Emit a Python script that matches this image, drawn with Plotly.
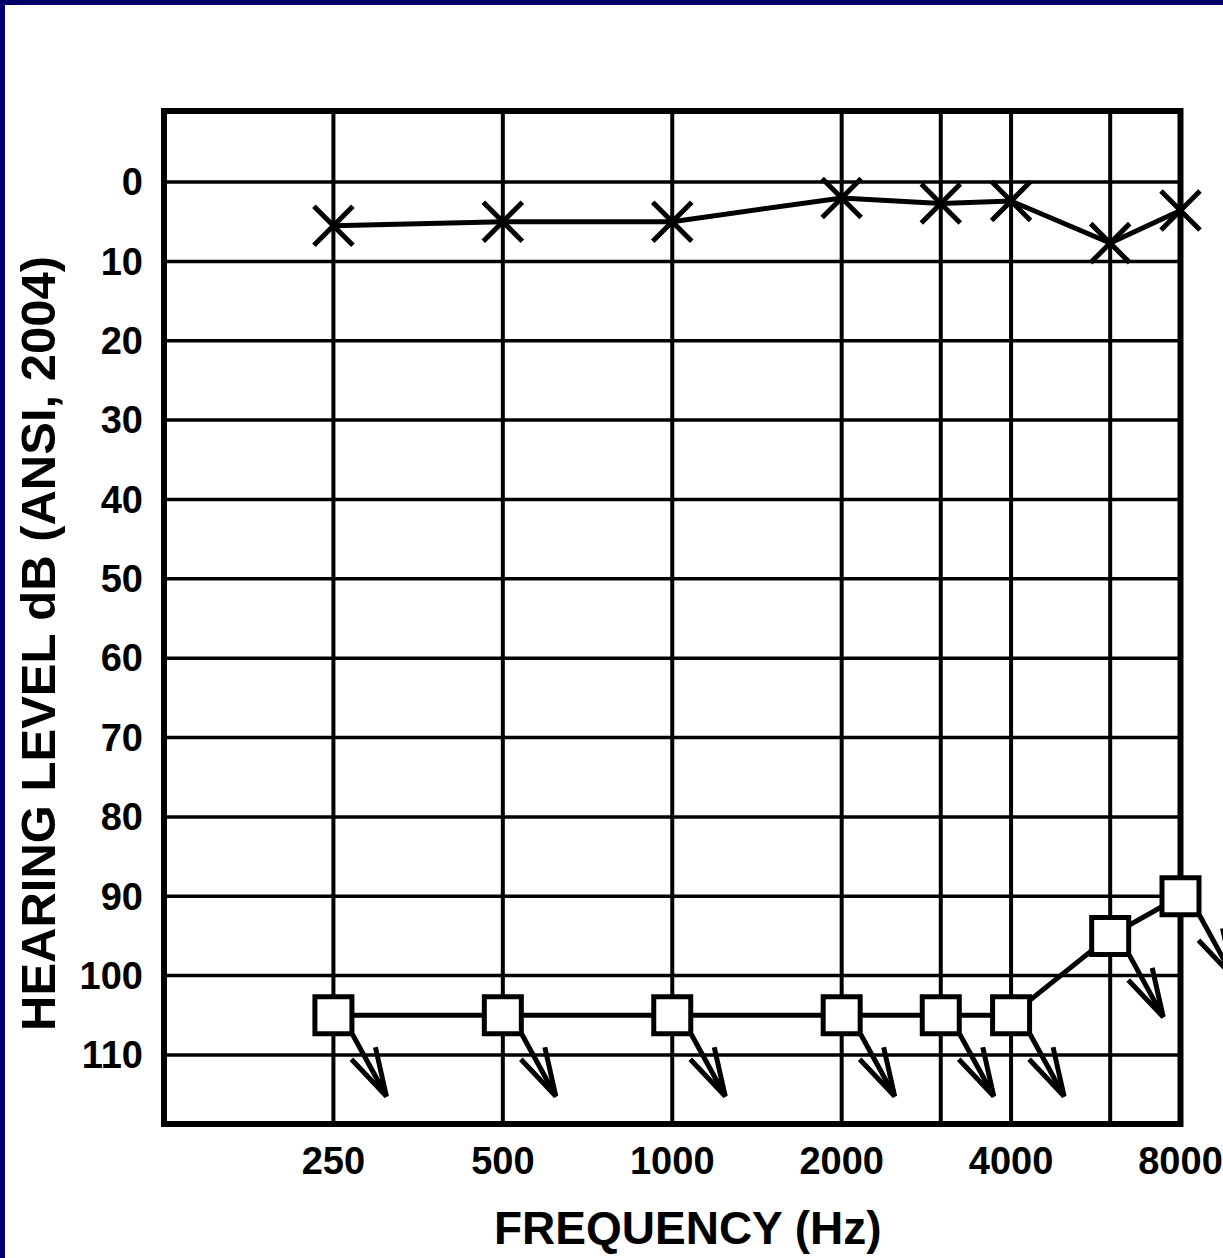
import numpy as np
import plotly.graph_objects as go

# ---------------- data ----------------
freq_x = [250, 500, 1000, 2000, 3000, 4000, 6000, 8000]
level_x = [5.5, 5, 5, 2, 2.7, 2.4, 7.7, 3.6]

freq_sq = [250, 500, 1000, 2000, 3000, 4000, 6000, 8000]
level_sq = [105, 105, 105, 105, 105, 105, 95, 90]

x_tickvals = [250, 500, 1000, 2000, 4000, 8000]
x_ticktext = ["250", "500", "1000", "2000", "4000", "8000"]
x_gridvals = [250, 500, 1000, 2000, 3000, 4000, 6000]
y_tickvals = [0, 10, 20, 30, 40, 50, 60, 70, 80, 90, 100, 110]
y_ticktext = [str(v) for v in y_tickvals]

f_min, f_max = 125, 8000
db_top, db_bot = -8.95, 118.7

# ---------------- geometry ----------------
W, H = 1223, 1258
L, R, T, B = 150, 1223, 100, 1140          # plot area pixels
px_left, px_right = 164, 1180.5            # pixel of f_min / f_max
py_top, py_bot = 111, 1124                 # pixel of db_top / db_bot
ppd = (px_right - px_left) / np.log10(f_max / f_min)   # px per decade
ppdb = (py_bot - py_top) / (db_bot - db_top)            # px per dB

x0_log = np.log10(f_min) - (px_left - L) / ppd
x1_log = np.log10(f_min) + (R - px_left) / ppd
y_topv = db_top - (py_top - T) / ppdb
y_botv = db_bot + (B - py_bot) / ppdb


def fx(f, dx):
    return f * 10 ** (dx / ppd)


def fy(v, dy):
    return v + dy / ppdb


font_family = "Liberation Sans, Arial, sans-serif"

fig = go.Figure()

# X symbols
fig.add_trace(go.Scatter(
    x=freq_x, y=level_x, mode="lines+markers",
    line=dict(color="black", width=5),
    marker=dict(symbol="x-thin", size=39, color="black",
                line=dict(color="black", width=5)),
    showlegend=False, hoverinfo="x+y", cliponaxis=False))

# square symbols
fig.add_trace(go.Scatter(
    x=freq_sq, y=level_sq, mode="lines+markers",
    line=dict(color="black", width=5),
    marker=dict(symbol="square", size=37, color="white",
                line=dict(color="black", width=5)),
    showlegend=False, hoverinfo="x+y", cliponaxis=False))

# no-response arrows
ax, ay = [], []
for f, v in zip(freq_sq, level_sq):
    s = (fx(f, 19), fy(v, 19))
    tip = (fx(f, 53), fy(v, 81))
    w1 = (fx(f, 42), fy(v, 32))
    w2 = (fx(f, 18), fy(v, 44))
    for p in (s, tip, None, w1, tip, w2, None):
        if p is None:
            ax.append(None); ay.append(None)
        else:
            ax.append(p[0]); ay.append(p[1])
fig.add_trace(go.Scatter(
    x=ax, y=ay, mode="lines", line=dict(color="black", width=5),
    showlegend=False, hoverinfo="skip"))

shapes = []
# horizontal grid
for v in y_tickvals:
    shapes.append(dict(type="line", xref="x", yref="y", x0=f_min, x1=f_max,
                       y0=v, y1=v, line=dict(color="black", width=3.5),
                       layer="below"))
# vertical grid
for f in x_gridvals:
    shapes.append(dict(type="line", xref="x", yref="y", x0=f, x1=f,
                       y0=db_top, y1=db_bot, line=dict(color="black", width=4),
                       layer="below"))
# frame
shapes.append(dict(type="rect", xref="x", yref="y", x0=f_min, x1=f_max,
                   y0=db_top, y1=db_bot, line=dict(color="black", width=6),
                   layer="below"))

# navy page border (top and left)
pw, ph = R - L, B - T


def pxp(px):
    return (px - L) / pw


def pyp(py):
    return (B - py) / ph


navy = "#000068"
shapes.append(dict(type="rect", xref="paper", yref="paper",
                   x0=pxp(0), x1=pxp(W), y0=pyp(5), y1=pyp(0),
                   fillcolor=navy, line=dict(width=0)))
shapes.append(dict(type="rect", xref="paper", yref="paper",
                   x0=pxp(0), x1=pxp(5), y0=pyp(H), y1=pyp(0),
                   fillcolor=navy, line=dict(width=0)))

annotations = [
    dict(text="FREQUENCY (Hz)", xref="paper", yref="paper",
         x=pxp(688), y=pyp(1228), showarrow=False,
         font=dict(family=font_family, size=46, color="black", weight="bold"),
         xanchor="center", yanchor="middle"),
    dict(text="HEARING LEVEL dB (ANSI, 2004)", xref="paper", yref="paper",
         x=pxp(38), y=pyp(644), showarrow=False, textangle=-90,
         font=dict(family=font_family, size=49, color="black", weight="bold"),
         xanchor="center", yanchor="middle"),
]

fig.update_layout(
    width=W, height=H,
    margin=dict(l=L, r=W - R, t=T, b=H - B, autoexpand=False),
    paper_bgcolor="white", plot_bgcolor="white",
    shapes=shapes, annotations=annotations,
    xaxis=dict(type="log", range=[x0_log, x1_log], showgrid=False,
               zeroline=False, showline=False, ticks="",
               tickvals=x_tickvals, ticktext=x_ticktext,
               tickfont=dict(family=font_family, size=38, color="black",
                             weight="bold"),
               ticklabelstandoff=-5, fixedrange=True),
    yaxis=dict(range=[y_botv, y_topv], showgrid=False, zeroline=False,
               showline=False, ticks="",
               tickvals=y_tickvals, ticktext=y_ticktext,
               tickfont=dict(family=font_family, size=38, color="black",
                             weight="bold"),
               ticklabelstandoff=6, fixedrange=True),
)

fig.write_html(
    "out.html",
    config={"displayModeBar": False},
    post_script="document.body.style.margin='0';document.body.style.overflow='hidden';",
)
